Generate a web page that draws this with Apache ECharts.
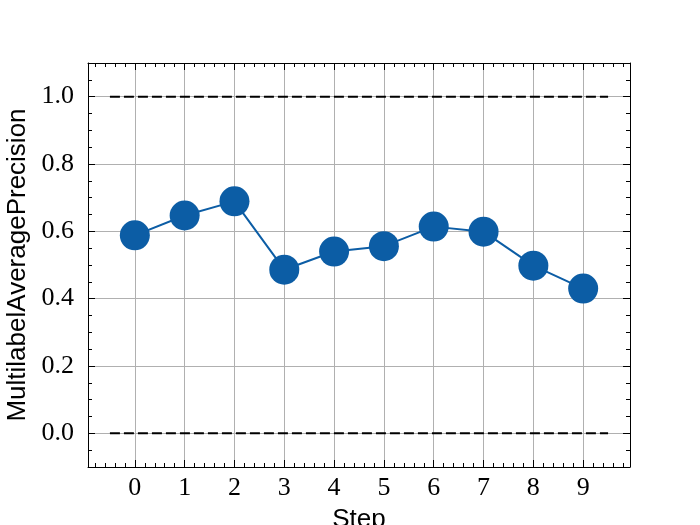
<!DOCTYPE html>
<html>
<head>
<meta charset="utf-8">
<script src="https://cdn.jsdelivr.net/npm/echarts@6/dist/echarts.min.js"></script>
<style>html,body{margin:0;padding:0;background:#fff;}#c{width:700px;height:525px;}</style>
</head>
<body>
<div id="c"></div>
<script>
const steps = [0, 1, 2, 3, 4, 5, 6, 7, 8, 9];
const precision = [0.588, 0.647, 0.689, 0.486, 0.540, 0.556, 0.614, 0.599, 0.498, 0.430];
const refLevels = [0.0, 1.0];
const refSpan = [-0.5, 9.5];
const xRange = [-0.94, 9.94];
const yRange = [-0.1, 1.1];

const serif = 'Liberation Serif';
const sans = 'Liberation Sans';

const chart = echarts.init(document.getElementById('c'), null, {renderer: 'canvas'});

const tickCommon = {
  axisTick: {show: true, inside: true, length: 7, lineStyle: {color: '#000', width: 1}},
  axisLine: {show: true, onZero: false, lineStyle: {color: '#000', width: 1}}
};

const fmtX = v => Math.abs(v - Math.round(v)) < 1e-9 ? String(Math.round(v)) : '';
const fmtY = v => {
  const r = Math.round(v * 10) / 10;
  if (Math.abs(v - r) > 1e-9 || v < -1e-9 || v > 1.0 + 1e-9) return '';
  return r.toFixed(1);
};

const series = [
  {
    type: 'line',
    data: steps.map((s, i) => [s, precision[i]]),
    symbol: 'circle',
    symbolSize: 30,
    itemStyle: {color: '#0C5DA5'},
    lineStyle: {color: '#0C5DA5', width: 2},
    z: 5,
    animation: false
  }
];
refLevels.forEach(lv => {
  series.push({
    type: 'line',
    data: refSpan.map(x => [x, lv]),
    symbol: 'none',
    lineStyle: {color: '#000', width: 2, type: [10, 4]},
    z: 4,
    animation: false
  });
});

chart.setOption({
  animation: false,
  backgroundColor: '#fff',
  grid: {left: 88, right: 70, top: 63, bottom: 58, containLabel: false, outerBoundsMode: 'none'},
  xAxis: [
    Object.assign({
      type: 'value', min: xRange[0], max: xRange[1], minInterval: 1, maxInterval: 1,
      position: 'bottom',
      minorTick: {show: true, splitNumber: 5, length: 4, lineStyle: {color: '#000', width: 1}},
      splitLine: {show: true, lineStyle: {color: '#b0b0b0', width: 1}},
      axisLabel: {formatter: fmtX, fontFamily: serif, fontSize: 26, color: '#000', margin: 8},
      name: 'Step', nameLocation: 'middle', nameGap: 40,
      nameTextStyle: {fontFamily: sans, fontSize: 26, color: '#000'}
    }, tickCommon),
    Object.assign({
      type: 'value', min: xRange[0], max: xRange[1], minInterval: 1, maxInterval: 1,
      position: 'top',
      minorTick: {show: true, splitNumber: 5, length: 4, lineStyle: {color: '#000', width: 1}},
      splitLine: {show: false},
      axisLabel: {show: false}
    }, tickCommon)
  ],
  yAxis: [
    Object.assign({
      type: 'value', min: yRange[0], max: yRange[1], minInterval: 0.2, maxInterval: 0.2,
      position: 'left',
      minorTick: {show: true, splitNumber: 4, length: 4, lineStyle: {color: '#000', width: 1}},
      splitLine: {show: true, lineStyle: {color: '#b0b0b0', width: 1}},
      axisLabel: {formatter: fmtY, fontFamily: serif, fontSize: 26, color: '#000', margin: 14},
      name: 'MultilabelAveragePrecision', nameLocation: 'middle', nameGap: 55,
      nameTextStyle: {fontFamily: sans, fontSize: 26, color: '#000'}
    }, tickCommon),
    Object.assign({
      type: 'value', min: yRange[0], max: yRange[1], minInterval: 0.2, maxInterval: 0.2,
      position: 'right',
      minorTick: {show: true, splitNumber: 4, length: 4, lineStyle: {color: '#000', width: 1}},
      splitLine: {show: false},
      axisLabel: {show: false}
    }, tickCommon)
  ],
  series: series
});
</script>
</body>
</html>
